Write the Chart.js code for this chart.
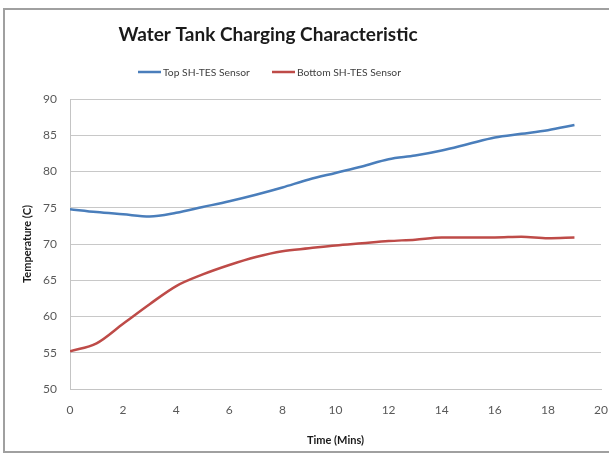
<!DOCTYPE html>
<html>
<head>
<meta charset="utf-8">
<script src="https://cdn.jsdelivr.net/npm/chart.js@4.4.0/dist/chart.umd.min.js"></script>
<style>
  html, body { margin: 0; padding: 0; background: #fff; }
  #wrap { width: 609px; height: 457px; }
</style>
</head>
<body>
<div id="wrap"><canvas id="myChart" width="609" height="457"></canvas></div>
<script>
// chart values
var chartTitle = 'Water Tank Charging Characteristic';
var minutes = [0,1,2,3,4,5,6,7,8,9,10,11,12,13,14,15,16,17,18,19];
var topSensor = [74.8, 74.4, 74.1, 73.8, 74.3, 75.1, 75.9, 76.8, 77.8, 78.9, 79.8, 80.7, 81.7, 82.2, 82.9, 83.8, 84.7, 85.2, 85.7, 86.4];
var bottomSensor = [55.2, 56.3, 59.0, 61.7, 64.2, 65.8, 67.1, 68.2, 69.0, 69.4, 69.8, 70.1, 70.4, 70.6, 70.9, 70.9, 70.9, 71.0, 70.8, 70.9];
var seriesNames = ['Top SH-TES Sensor', 'Bottom SH-TES Sensor'];
var xTicks = [0,2,4,6,8,10,12,14,16,18,20];
var yTicks = [50,55,60,65,70,75,80,85,90];

var FONT = 'Lato, Calibri, "Liberation Sans", sans-serif';

function toPoints(ys) {
  return minutes.map(function (m, i) { return { x: m, y: ys[i] }; });
}

// title, legend and outer frame drawn like the excel chart
var excelFrame = {
  id: 'excelFrame',
  beforeDraw: function (chart) {
    var c = chart.ctx;
    c.save();
    c.fillStyle = '#fff';
    c.fillRect(0, 0, chart.width, chart.height);
    c.strokeStyle = '#a0a0a0';
    c.lineWidth = 2;
    c.strokeRect(4, 9, chart.width + 10, 443);
    c.restore();
  },
  afterDraw: function (chart) {
    var c = chart.ctx;
    c.save();
    c.fillStyle = '#1a1a1a';
    c.font = 'bold 19px ' + FONT;
    c.textAlign = 'center';
    c.textBaseline = 'alphabetic';
    c.fillText(chartTitle, 268, 41);

    var legendX = [138, 272];
    c.font = '10.3px ' + FONT;
    c.textAlign = 'left';
    chart.data.datasets.forEach(function (ds, i) {
      c.strokeStyle = ds.borderColor;
      c.lineWidth = 2.5;
      c.beginPath();
      c.moveTo(legendX[i], 72);
      c.lineTo(legendX[i] + 23, 72);
      c.stroke();
      c.fillStyle = '#404040';
      c.fillText(ds.label, legendX[i] + 25, 76);
    });
    c.restore();
  }
};

var ctx = document.getElementById('myChart').getContext('2d');
var myChart = new Chart(ctx, {
  type: 'line',
  data: {
    datasets: [{
      label: seriesNames[0],
      data: toPoints(topSensor),
      borderColor: '#4a7ebb',
      borderWidth: 2.5,
      pointRadius: 0,
      cubicInterpolationMode: 'monotone',
      fill: false
    },
    {
      label: seriesNames[1],
      data: toPoints(bottomSensor),
      borderColor: '#be4b48',
      borderWidth: 2.5,
      pointRadius: 0,
      cubicInterpolationMode: 'monotone',
      fill: false
    }]
  },
  options: {
    responsive: false,
    animation: false,
    layout: { padding: { left: 0, right: 8, top: 99, bottom: 0 } },
    plugins: {
      legend: { display: false },
      title: { display: false },
      tooltip: { enabled: false }
    },
    scales: {
      x: {
        type: 'linear',
        min: 0,
        max: 20,
        afterFit: function (scale) {
          scale.height = 68;
          scale.paddingRight = 0;
        },
        afterBuildTicks: function (scale) {
          scale.ticks = xTicks.map(function (v) { return { value: v }; });
        },
        // invisible tick marks push the labels down without widening the right edge
        grid: { display: true, color: 'transparent', drawOnChartArea: false, drawTicks: true, tickLength: 14, tickColor: 'transparent' },
        border: { display: true, color: '#c4c4c4', width: 1 },
        ticks: { padding: 0, color: '#595959', font: { family: FONT, size: 12 }, maxRotation: 0 },
        title: {
          display: true,
          text: 'Time (Mins)',
          color: '#1a1a1a',
          font: { family: FONT, size: 11, weight: 'bold' },
          padding: { top: 0, bottom: 10 }
        }
      },
      y: {
        min: 50,
        max: 90,
        afterFit: function (scale) { scale.width = 70; },
        afterBuildTicks: function (scale) {
          scale.ticks = yTicks.map(function (v) { return { value: v }; });
        },
        grid: { color: '#c8c8c8', lineWidth: 1, drawTicks: false },
        border: { display: true, color: '#c4c4c4', width: 1 },
        ticks: { padding: 13, color: '#595959', font: { family: FONT, size: 12 } },
        title: {
          display: true,
          text: 'Temperature (C)',
          color: '#1a1a1a',
          font: { family: FONT, size: 11, weight: 'bold' },
          padding: { top: 21, bottom: 0 }
        }
      }
    }
  },
  plugins: [excelFrame]
});
</script>
</body>
</html>
